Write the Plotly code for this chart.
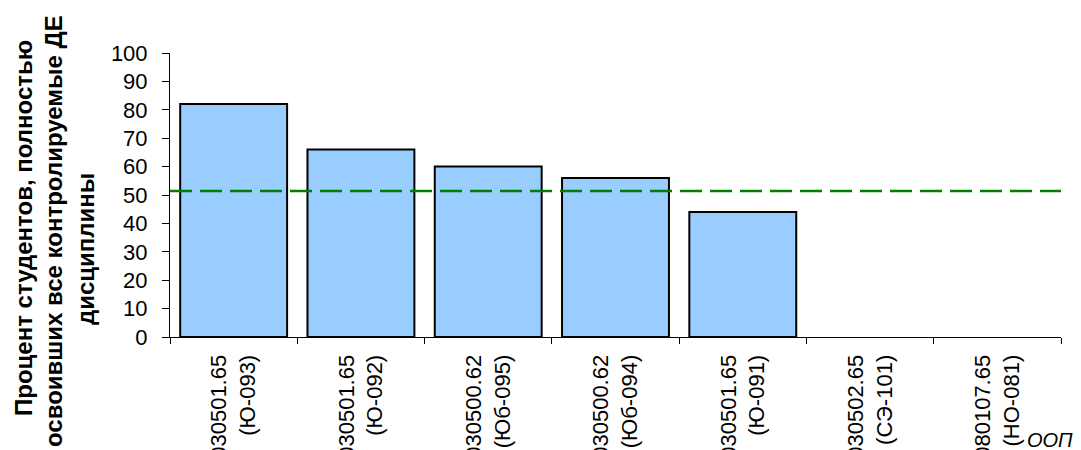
import plotly.graph_objects as go

# ---- data ----
categories = [
    "030501.65<br>(Ю-093)",
    "030501.65<br>(Ю-092)",
    "030500.62<br>(Юб-095)",
    "030500.62<br>(Юб-094)",
    "030501.65<br>(Ю-091)",
    "030502.65<br>(СЭ-101)",
    "080107.65<br>(НО-081)",
]
percent_values = [82, 66, 60, 56, 44, 0, 0]
threshold_value = 51.4
y_title_lines = [
    "Процент студентов, полностью",
    "освоивших все контролируемые ДЕ",
    "дисциплины",
]
x_title = "ООП"
y_ticks = [0, 10, 20, 30, 40, 50, 60, 70, 80, 90, 100]

# ---- layout geometry (page body adds an 8px offset) ----
OFF = 8
W, H = 1081, 450
PLOT_X0, PLOT_X1 = 170, 1061   # target on-screen pixels
PLOT_Y0, PLOT_Y1 = 53, 337
L = PLOT_X0 - OFF
T = PLOT_Y0 - OFF
R = W - (PLOT_X1 - OFF)
B = H - (PLOT_Y1 - OFF)
pw = W - L - R
ph = H - T - B


def px_x(px):
    return (px - OFF - L) / pw


def px_y(py):
    return (H - B - (py - OFF)) / ph


FONT = "Liberation Sans, Arial, sans-serif"

fig = go.Figure()
fig.add_trace(
    go.Bar(
        x=categories,
        y=percent_values,
        marker=dict(
            color="#99CCFF",
            line=dict(color="#000000", width=[2 if v > 0 else 0 for v in percent_values]),
        ),
        showlegend=False,
    )
)

fig.add_shape(
    type="line",
    xref="paper",
    yref="y",
    x0=0,
    x1=1,
    y0=threshold_value,
    y1=threshold_value,
    line=dict(color="#008000", width=2.5, dash="22px,8px"),
    layer="above",
)

# y-axis title (three lines)
title_pos = [(23, 228), (53, 231), (85, 249)]
for text, (cx, cy) in zip(y_title_lines, title_pos):
    fig.add_annotation(
        text=f"<b>{text}</b>",
        xref="paper",
        yref="paper",
        x=px_x(cx),
        y=px_y(cy),
        xanchor="center",
        yanchor="middle",
        textangle=-90,
        showarrow=False,
        font=dict(family=FONT, size=24, color="#000000"),
    )

fig.add_annotation(
    text=f"<i>{x_title}</i>",
    xref="paper",
    yref="paper",
    x=px_x(1075),
    y=px_y(440),
    xanchor="right",
    yanchor="middle",
    showarrow=False,
    font=dict(family=FONT, size=20, color="#000000"),
)

fig.update_layout(
    width=W,
    height=H,
    margin=dict(l=L, r=R, t=T, b=B, autoexpand=False),
    paper_bgcolor="white",
    plot_bgcolor="white",
    bargap=0.16,
    font=dict(family=FONT, size=22, color="#000000"),
)
fig.update_xaxes(
    showline=True,
    linecolor="#000000",
    linewidth=1,
    ticks="outside",
    tickson="boundaries",
    ticklen=6,
    tickcolor="#000000",
    tickangle=-90,
    ticklabelstandoff=8,
    tickfont=dict(family=FONT, size=22, color="#000000"),
    showgrid=False,
    zeroline=False,
    automargin=False,
)
fig.update_yaxes(
    range=[0, 100],
    tickvals=y_ticks,
    showline=True,
    linecolor="#000000",
    linewidth=1,
    ticks="outside",
    ticklen=7,
    tickcolor="#000000",
    ticklabelstandoff=10,
    tickfont=dict(family=FONT, size=22, color="#000000"),
    showgrid=False,
    zeroline=False,
    automargin=False,
)

fig.write_html("out.html")
